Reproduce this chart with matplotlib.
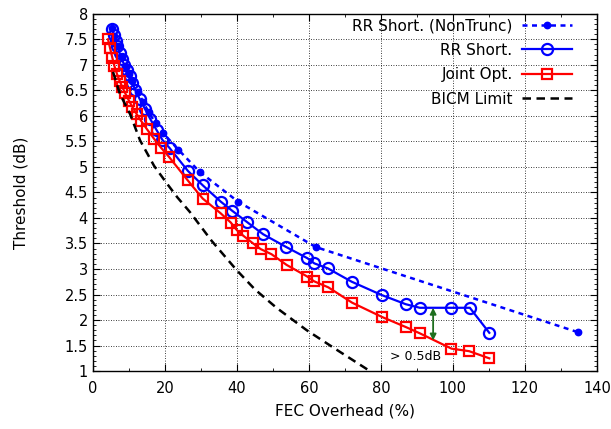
import matplotlib
matplotlib.use("Agg")
import matplotlib.pyplot as plt
from matplotlib.ticker import MultipleLocator

# ---------------- data ----------------
nt_x = [5.3, 6.0, 7.0, 8.0, 9.0, 10.0, 11.0, 12.5, 14.0, 15.5, 17.5, 19.4, 23.7, 29.7, 40.3, 61.9, 134.8]
nt_y = [7.72, 7.56, 7.36, 7.16, 6.98, 6.82, 6.68, 6.47, 6.27, 6.07, 5.85, 5.67, 5.34, 4.90, 4.32, 3.43, 1.76]

rr_x = [5.3, 5.8, 6.3, 6.8, 7.4, 8.0, 8.7, 9.4, 10.2, 11.0, 11.8, 13.0, 14.5, 16.0, 17.7, 19.3, 21.3,
        26.4, 30.5, 35.5, 38.7, 42.8, 47.3, 53.7, 59.6, 61.5, 65.3, 71.9, 80.2, 86.9, 90.8, 99.6, 104.7, 110.1]
rr_y = [7.70, 7.58, 7.47, 7.36, 7.23, 7.12, 7.00, 6.90, 6.78, 6.64, 6.50, 6.33, 6.13, 5.93, 5.72, 5.53, 5.37,
        4.92, 4.64, 4.32, 4.14, 3.92, 3.68, 3.43, 3.21, 3.11, 3.01, 2.75, 2.49, 2.31, 2.24, 2.24, 2.24, 1.75]

jo_x = [4.2, 4.8, 5.4, 6.0, 6.7, 7.4, 8.2, 9.0, 10.0, 11.0, 12.2, 13.5, 15.0, 17.0, 19.0, 21.1,
        26.3, 30.5, 35.5, 38.3, 40.0, 41.8, 44.5, 46.6, 49.6, 53.8, 59.6, 61.4, 65.4, 72.0, 80.3, 87.0,
        90.8, 99.6, 104.5, 110.1]
jo_y = [7.50, 7.32, 7.14, 6.97, 6.82, 6.69, 6.56, 6.44, 6.30, 6.17, 6.03, 5.89, 5.74, 5.55, 5.37, 5.20,
        4.74, 4.38, 4.09, 3.91, 3.76, 3.65, 3.50, 3.39, 3.29, 3.08, 2.85, 2.76, 2.64, 2.34, 2.06, 1.86,
        1.74, 1.44, 1.39, 1.25]

bicm_x = [5.6, 7.5, 10.3, 13.1, 17.0, 20.5, 23.5, 26.9, 33.0, 39.9, 45.0, 51.0, 59.4, 68.1, 77.4]
bicm_y = [6.86, 6.43, 6.04, 5.52, 5.02, 4.68, 4.40, 4.12, 3.55, 2.98, 2.60, 2.24, 1.80, 1.40, 0.98]

labels = ["RR Short. (NonTrunc)", "RR Short.", "Joint Opt.", "BICM Limit"]
arrow_x = 94.5
arrow_y = (2.24, 1.60)
note_text = "> 0.5dB"
note_pos = (82.5, 1.28)

# ---------------- plot ----------------
fig = plt.figure(figsize=(6.11, 4.29), dpi=100)
ax = fig.add_axes([0.152, 0.135, 0.825, 0.833])

ax.plot(nt_x, nt_y, color=(0, 0, 1), lw=1.8, linestyle=(0, (2, 1.8)), marker="o",
        markersize=4.6, label=labels[0])
ax.plot(rr_x, rr_y, color=(0, 0, 1), lw=1.6, marker="o", markersize=8,
        markerfacecolor="none", markeredgewidth=1.6, label=labels[1])
ax.plot(jo_x, jo_y, color=(1, 0, 0), lw=1.6, marker="s", markersize=7.5,
        markerfacecolor="none", markeredgewidth=1.6, label=labels[2])
ax.plot(bicm_x, bicm_y, color="black", lw=1.8, linestyle=(0, (3.4, 2.2)), label=labels[3])

ax.annotate("", xy=(arrow_x, arrow_y[1]), xytext=(arrow_x, arrow_y[0]),
            arrowprops=dict(arrowstyle="<|-|>", color="#1f6f1f", lw=1.3, shrinkA=0, shrinkB=0,
                            mutation_scale=9), zorder=6)
ax.text(note_pos[0], note_pos[1], note_text, fontsize=9, ha="left", va="center")

ax.set_xlim(0, 140)
ax.set_ylim(1, 8)
ax.xaxis.set_major_locator(MultipleLocator(20))
ax.xaxis.set_minor_locator(MultipleLocator(10))
ax.yaxis.set_major_locator(MultipleLocator(0.5))
ax.yaxis.set_minor_locator(MultipleLocator(0.1))
ax.yaxis.set_major_formatter(plt.FuncFormatter(lambda v, p: f"{v:g}"))
ax.tick_params(which="both", direction="in", top=True, right=True, labelsize=10.5)
ax.tick_params(which="major", length=5, width=0.8)
ax.tick_params(which="minor", length=2.5, width=0.6)
ax.tick_params(axis="x", which="major", pad=7)
ax.grid(True, which="major", color="black", linestyle=(0, (1, 2)), lw=0.6)

for s in ax.spines.values():
    s.set_linewidth(1.0)

ax.set_xlabel("FEC Overhead (%)", fontsize=11, labelpad=5.5)
ax.set_ylabel("Threshold (dB)", fontsize=11, labelpad=26)

leg = ax.legend(loc="upper right", bbox_to_anchor=(0.96, 1.0), frameon=False, markerfirst=False,
                fontsize=11, handlelength=3.3, labelspacing=0.62, borderaxespad=0.1,
                handletextpad=0.6, borderpad=0.2)
for t in leg.get_texts():
    t.set_ha("right")
leg._legend_box.align = "right"

fig.savefig("out.png", dpi=100)
